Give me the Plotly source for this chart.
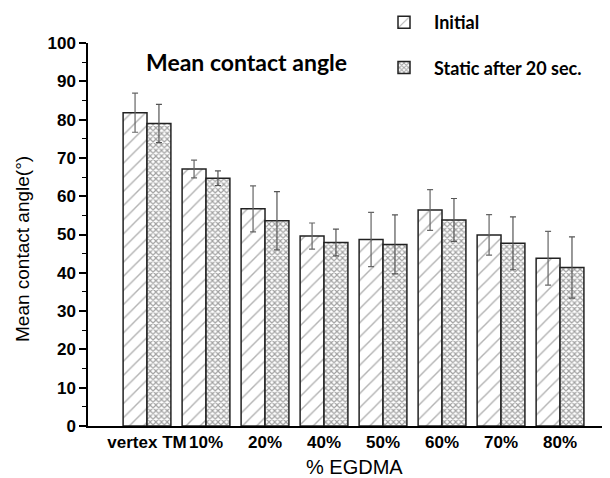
import plotly.graph_objects as go

categories = ["vertex TM", "10%", "20%", "40%", "50%", "60%", "70%", "80%"]
initial_vals = [81.8, 67.1, 56.7, 49.6, 48.7, 56.4, 49.9, 43.8]
initial_err = [5.1, 2.3, 6.0, 3.4, 7.1, 5.3, 5.3, 7.0]
static_vals = [79.0, 64.7, 53.6, 47.9, 47.4, 53.8, 47.7, 41.4]
static_err = [5.0, 1.9, 7.6, 3.5, 7.7, 5.6, 6.9, 8.0]
y_ticks = [0, 10, 20, 30, 40, 50, 60, 70, 80, 90, 100]

AX_FONT = "Liberation Sans, Arial, sans-serif"
LEG_FONT = "Lato, Carlito, Calibri, sans-serif"

OFF = 8  # page body margin
W, H = 610 - OFF, 478 - OFF
L, T = 88 - OFF, 43 - OFF
R = W - (609 - OFF)
B = H - (426 - OFF)
pw, ph = W - L - R, H - T - B


def px(x):  # window pixel -> paper
    return (x - OFF - L) / pw


def py(y):
    return 1 - (y - OFF - T) / ph


fig = go.Figure()
fig.add_trace(go.Bar(
    name="Initial", x=categories, y=initial_vals, legendgroup="a",
    marker=dict(color="white", line=dict(color="#222", width=1.5),
                pattern=dict(shape="/", fgcolor="#666", bgcolor="white", size=10, solidity=0.14)),
    error_y=dict(type="data", array=initial_err, color="#666", thickness=1.2, width=3),
))
fig.add_trace(go.Bar(
    name="Static after 20 sec.", x=categories, y=static_vals, legendgroup="b",
    marker=dict(color="white", line=dict(color="#222", width=1.5),
                pattern=dict(shape="x", fgcolor="#444", bgcolor="white", size=4, solidity=0.5)),
    error_y=dict(type="data", array=static_err, color="#555", thickness=1.2, width=3),
))

fig.update_layout(
    width=W, height=H,
    margin=dict(l=L, r=R, t=T, b=B, autoexpand=False),
    paper_bgcolor="white", plot_bgcolor="white",
    barmode="group", bargap=0.19, bargroupgap=0,
    showlegend=True,
    legend=dict(x=px(374), xanchor="left", y=py(4), yanchor="top",
                font=dict(family=LEG_FONT, size=18, color="black", weight="bold"),
                tracegroupgap=19, bgcolor="rgba(0,0,0,0)", itemwidth=50),
    xaxis=dict(range=[-1, 7.83], showline=True, linecolor="black", linewidth=1.5,
               ticks="", showgrid=False, zeroline=False,
               tickfont=dict(family=AX_FONT, size=17, color="black", weight="bold")),
    yaxis=dict(range=[0, 100], tickvals=y_ticks, showline=True, linecolor="black", linewidth=1.5,
               ticks="outside", ticklen=7, tickwidth=1.5, tickcolor="black",
               minor=dict(ticks="outside", ticklen=4, tickwidth=1.2, tickcolor="black", dtick=5),
               showgrid=False, zeroline=False,
               tickfont=dict(family=AX_FONT, size=17, color="black", weight="bold")),
    annotations=[
        dict(text="Mean contact angle", x=px(246), y=py(62), xref="paper", yref="paper",
             xanchor="center", yanchor="middle",
             showarrow=False, font=dict(family=LEG_FONT, size=23, color="black", weight="bold")),
        dict(text="Mean contact angle(°)", x=px(22), y=py(249), xref="paper", yref="paper",
             xanchor="center", yanchor="middle",
             showarrow=False, textangle=-90, font=dict(family=AX_FONT, size=19, color="black")),
        dict(text="% EGDMA", x=px(354), y=py(467), xref="paper", yref="paper",
             xanchor="center", yanchor="middle",
             showarrow=False, font=dict(family=AX_FONT, size=20, color="black")),
    ],
)

fig.write_html("out.html")
